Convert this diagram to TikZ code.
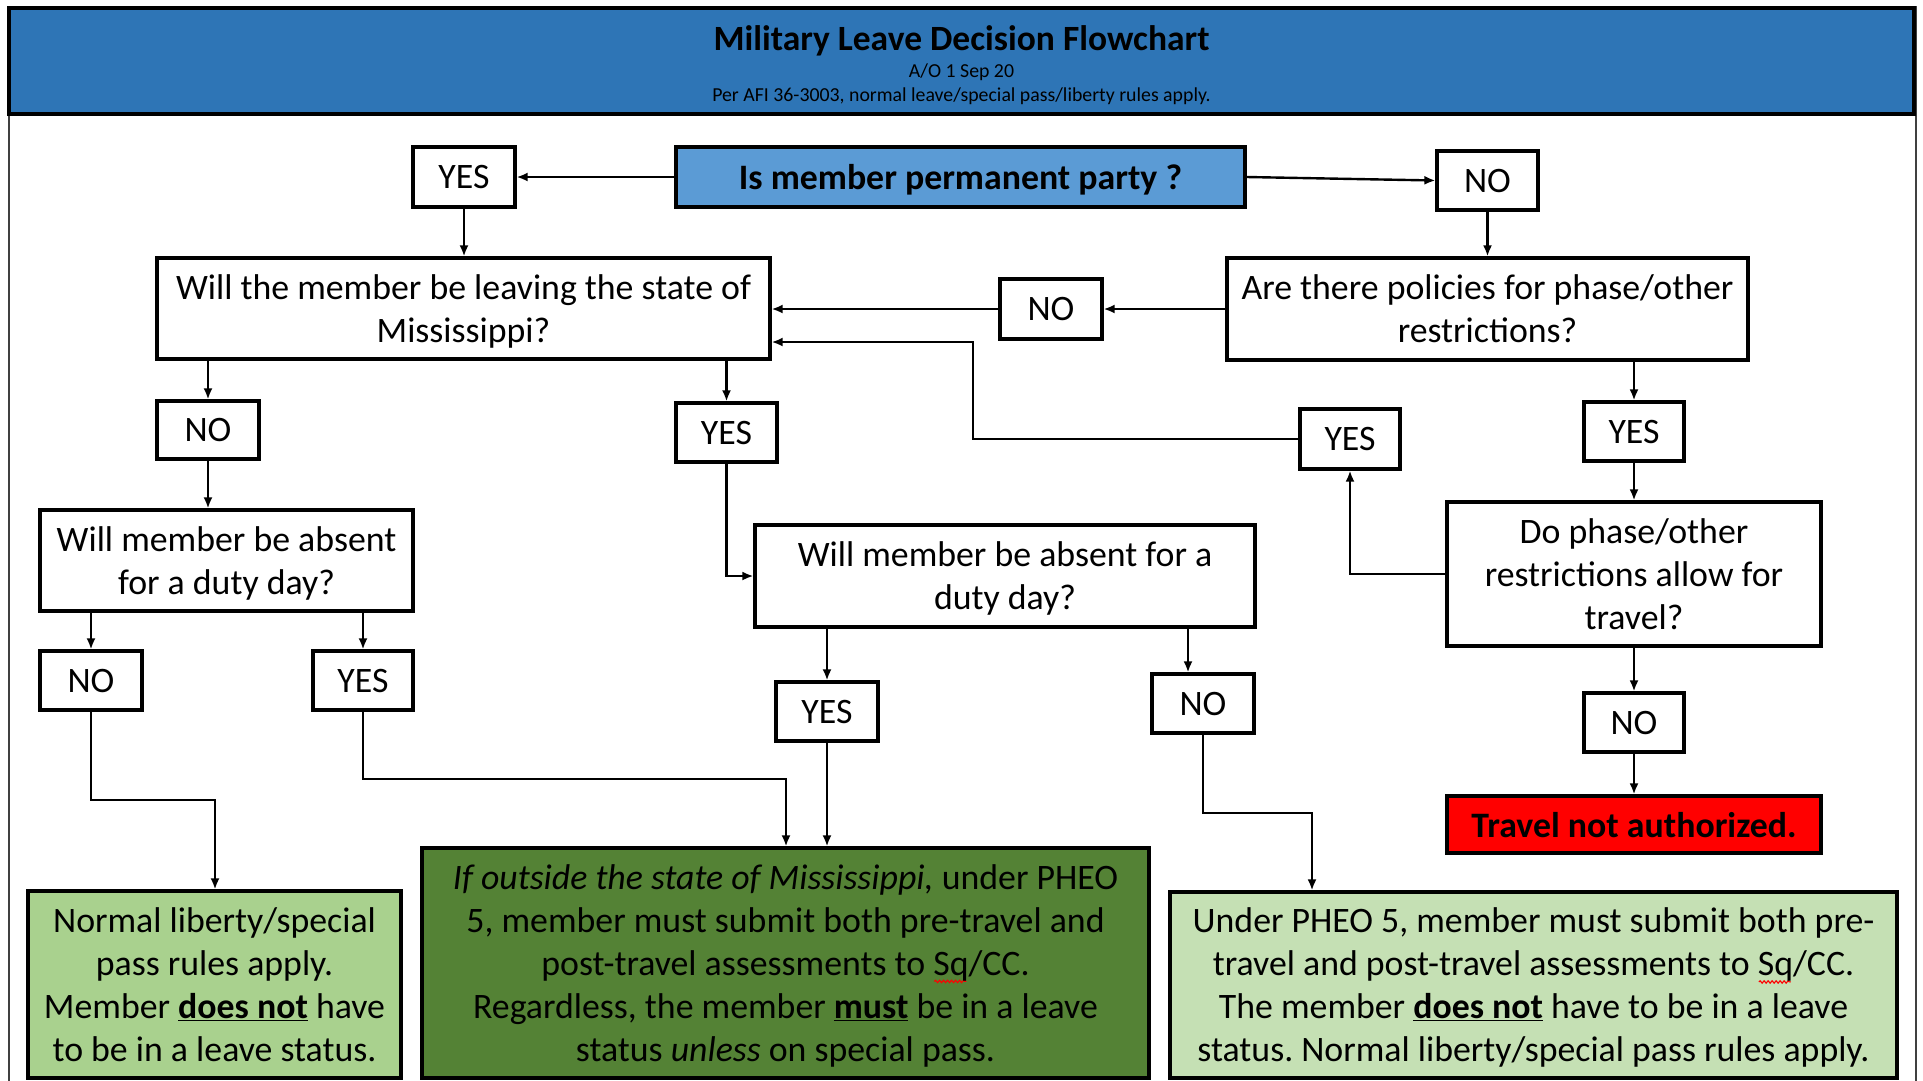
\documentclass[tikz,border=0pt]{standalone}
\usepackage{fontspec}
\setmainfont{Carlito}
\usetikzlibrary{arrows.meta,decorations.pathmorphing}
\definecolor{hdrblue}{HTML}{2E75B6}
\definecolor{qblue}{HTML}{5B9BD5}
\definecolor{lgreen}{HTML}{A9D18E}
\definecolor{dgreen}{HTML}{548235}
\definecolor{pgreen}{HTML}{C5E0B4}
\definecolor{framegray}{HTML}{404040}
\newcommand{\sqmark}{\rlap{\tikz[overlay,x=1pt,y=1pt]\draw[red,line width=1.1pt,decorate,decoration={snake,amplitude=1.2pt,segment length=4pt}] (1,-6) -- (33,-6);}Sq}
\tikzset{
  txt/.style={font=\fontsize{35.8}{43}\selectfont\frenchspacing, align=center, inner sep=0pt, text depth=0pt},
  box/.style={txt, draw=black, line width=3.2pt, fill=white, rectangle},
  conn/.style={line width=2.4pt, -{Latex[length=11pt,width=9pt]}},
}
\begin{document}
\begin{tikzpicture}[x=1pt,y=-1pt]
\useasboundingbox (0,0) rectangle (1923,1080);
\fill[white] (0,0) rectangle (1923,1080);
% outer frame
\draw[framegray, line width=2pt] (8.5,7) rectangle (1915.5,1090);
% header band
\draw[black, fill=hdrblue, line width=4pt] (9,8) rectangle (1914,114);
\node[txt, font=\fontsize{35.5}{40}\selectfont\bfseries] (title) at (961.5,38) {Military Leave Decision Flowchart};
\node[txt, font=\fontsize{19.8}{22}\selectfont] (sub1) at (961.5,71) {A/O 1 Sep 20};
\node[txt, font=\fontsize{19.8}{22}\selectfont] (sub2) at (961.5,94.5) {Per AFI 36-3003, normal leave/special pass/liberty rules apply.};

% nodes
\node[box, fill=qblue, font=\fontsize{35.8}{43}\selectfont\bfseries, minimum width=569pt, minimum height=60pt] (q1) at (960.5,177) {Is member permanent party ?};
\node[box, minimum width=102pt, minimum height=60pt] (y1) at (464,177) {YES};
\node[box, minimum width=101pt, minimum height=59pt] (n1) at (1487.5,180.5) {NO};
\node[box, minimum width=613pt, minimum height=101pt] (q2) at (463.5,308.5) {Will the member be leaving the state of\\Mississippi?};
\node[box, minimum width=521pt, minimum height=102pt] (q3) at (1487.5,309) {Are there policies for phase/other\\restrictions?};
\node[box, minimum width=102pt, minimum height=60pt] (n2) at (1051,309) {NO};
\node[box, minimum width=102pt, minimum height=58pt] (n3) at (208,430) {NO};
\node[box, minimum width=101pt, minimum height=59pt] (y2) at (726.5,432.5) {YES};
\node[box, minimum width=100pt, minimum height=59pt] (y3) at (1634,431.5) {YES};
\node[box, minimum width=100pt, minimum height=60pt] (y4) at (1350,439) {YES};
\node[box, minimum width=373pt, minimum height=101pt] (q4) at (226.5,560.5) {Will member be absent\\for a duty day?};
\node[box, minimum width=500pt, minimum height=102pt] (q5) at (1005,576) {Will member be absent for a\\duty day?};
\node[box, minimum width=374pt, minimum height=144pt] (q6) at (1634,574) {Do phase/other\\restrictions allow for\\travel?};
\node[box, minimum width=102pt, minimum height=59pt] (n4) at (91,680.5) {NO};
\node[box, minimum width=100pt, minimum height=59pt] (y5) at (363,680.5) {YES};
\node[box, minimum width=102pt, minimum height=59pt] (y6) at (827,711.5) {YES};
\node[box, minimum width=102pt, minimum height=59pt] (n5) at (1203,703.5) {NO};
\node[box, minimum width=100pt, minimum height=59pt] (n6) at (1634,722.5) {NO};
\node[box, fill=red, font=\fontsize{35.8}{43}\selectfont\bfseries, minimum width=374pt, minimum height=57pt] (r1) at (1634,824.5) {Travel not authorized.};
\node[box, fill=lgreen, minimum width=373pt, minimum height=187pt] (g1) at (214.5,984.5) {Normal liberty/special\\pass rules apply.\\Member \underline{\textbf{does not}} have\\to be in a leave status.};
\node[box, fill=dgreen, minimum width=727pt, minimum height=230pt] (g2) at (785.5,963) {\textit{If outside the state of Mississippi,} under PHEO\\5, member must submit both pre-travel and\\post-travel assessments to \sqmark/CC.\\Regardless, the member \underline{\textbf{must}} be in a leave\\status \textit{unless} on special pass.};
\node[box, fill=pgreen, minimum width=727pt, minimum height=186pt] (g3) at (1533.5,985) {Under PHEO 5, member must submit both pre-\\travel and post-travel assessments to \sqmark/CC.\\The member \underline{\textbf{does not}} have to be in a leave\\status. Normal liberty/special pass rules apply.};

% bend points
\coordinate (c1) at (973,342);
\coordinate (c2) at (215,800);
\coordinate (c3) at (786,779);
\coordinate (c4) at (1312,813);

% connectors
\draw[conn] (q1.west) -- (y1.east);
\draw[conn] (q1.east) -- (n1.west);
\draw[conn] (y1.south) -- (y1.south |- q2.north);
\draw[conn] (n1.south) -- (n1.south |- q3.north);
\draw[conn] (q3.west) -- (n2.east);
\draw[conn] (n2.west) -- (n2.west -| q2.east);
\draw[conn] (n3.north |- q2.south) -- (n3.north);
\draw[conn] (y2.north |- q2.south) -- (y2.north);
\draw[conn] (n3.south) -- (n3.south |- q4.north);
\draw[conn] (y2.south) |- (q5.west);
\draw[conn] (y3.north |- q3.south) -- (y3.north);
\draw[conn] (y3.south) -- (y3.south |- q6.north);
\draw[conn] (y4.west) -| (c1) -- (c1 -| q2.east);
\draw[conn] (q6.west) -| (y4.south);
\draw[conn] (n4.north |- q4.south) -- (n4.north);
\draw[conn] (y5.north |- q4.south) -- (y5.north);
\draw[conn] (y6.north |- q5.south) -- (y6.north);
\draw[conn] ([xshift=-15pt]n5.north |- q5.south) -- ([xshift=-15pt]n5.north);
\draw[conn] (n4.south) |- (c2) -- (c2 |- g1.north);
\draw[conn] (y5.south) |- (c3) -- (c3 |- g2.north);
\draw[conn] (y6.south) -- (y6.south |- g2.north);
\draw[conn] (n5.south) |- (c4) -- (c4 |- g3.north);
\draw[conn] (q6.south) -- (n6.north);
\draw[conn] (n6.south) -- (r1.north);
\end{tikzpicture}
\end{document}
